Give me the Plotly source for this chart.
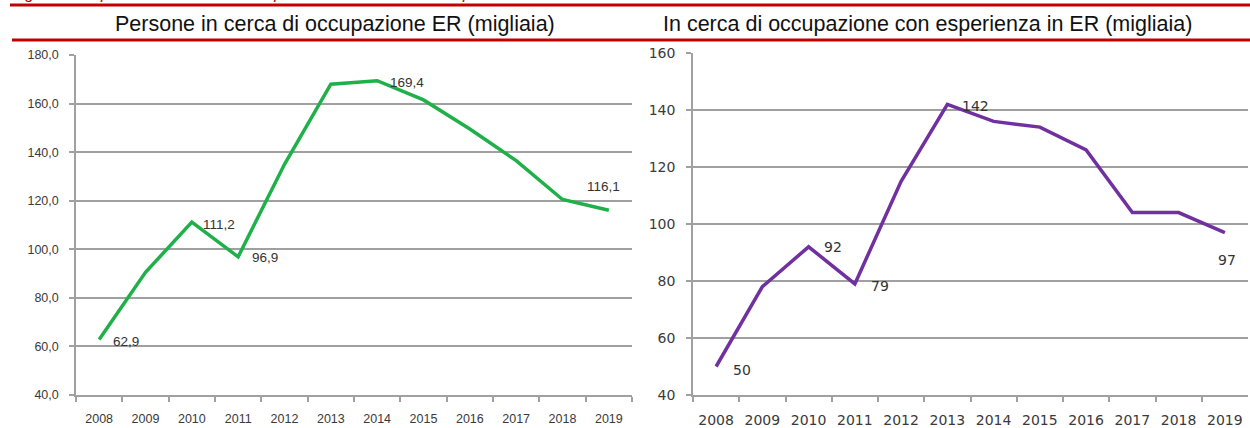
import plotly.graph_objects as go

# ---- data ----
years = [str(y) for y in range(2008, 2020)]
persone = [62.9, 90.5, 111.2, 96.9, 135.0, 168.0, 169.4, 161.5, 149.5, 136.5, 120.5, 116.1]
esperienza = [50, 78, 92, 79, 115, 142, 136, 134, 126, 104, 104, 97]
left_label_idx = [0, 2, 3, 6, 11]
right_label_idx = [0, 2, 3, 5, 11]
left_ticks = [40, 60, 80, 100, 120, 140, 160, 180]
right_ticks = [40, 60, 80, 100, 120, 140, 160]

caption = "Fig. 2.3.2.1: persone in cerca di occupazione* in ER. Media dei primi nove mesi dell'anno"
title_left = "Persone in cerca di occupazione ER (migliaia)"
title_right = "In cerca di occupazione con esperienza in ER (migliaia)"

W, H = 1250, 428
def px(x):
    return x / W
def py(y):
    return 1 - y / H

GRID = "#a0a0a0"
RED = "#c00000"
GREEN = "#1fb04a"
PURPLE = "#7030a0"
TXT = "#3a3a3a"

fig = go.Figure()
fig.add_trace(go.Scatter(x=years, y=persone, mode="lines", line=dict(color=GREEN, width=3.5),
                         xaxis="x", yaxis="y", showlegend=False, hoverinfo="x+y"))
fig.add_trace(go.Scatter(x=years, y=esperienza, mode="lines", line=dict(color=PURPLE, width=3.5),
                         xaxis="x2", yaxis="y2", showlegend=False, hoverinfo="x+y"))

annotations = []
left_style = {0: (12, -2, "left"), 2: (9, -2, "left"), 3: (12, -1, "left"),
              6: (11, -2, "left"), 11: (-5, 24, "center")}
for i in left_label_idx:
    xs, ys, xa = left_style[i]
    annotations.append(dict(x=i, y=persone[i], xref="x", yref="y",
                            text=f"{persone[i]:.1f}".replace(".", ","), showarrow=False,
                            xanchor=xa, yanchor="middle", xshift=xs, yshift=ys,
                            font=dict(family="Liberation Sans, Arial", size=13.5, color="#333333")))
right_style = {0: (15, -3, "left"), 2: (13, 0, "left"), 3: (14, -2, "left"),
               5: (13, -2, "left"), 11: (2, -27, "center")}
for i in right_label_idx:
    xs, ys, xa = right_style[i]
    annotations.append(dict(x=i, y=esperienza[i], xref="x2", yref="y2",
                            text=f"{esperienza[i]}", showarrow=False,
                            xanchor=xa, yanchor="middle", xshift=xs, yshift=ys,
                            font=dict(family="DejaVu Sans, Verdana", size=14, color="#333333")))

annotations.append(dict(x=px(335), y=py(24), xref="paper", yref="paper", text=title_left,
                        showarrow=False, xanchor="center", yanchor="middle",
                        font=dict(family="Liberation Sans, Arial", size=21.5, color="#111111")))
annotations.append(dict(x=px(928), y=py(24), xref="paper", yref="paper", text=title_right,
                        showarrow=False, xanchor="center", yanchor="middle",
                        font=dict(family="Liberation Sans, Arial", size=21.5, color="#111111")))
annotations.append(dict(x=px(10), y=py(4), xref="paper", yref="paper", text="<i>" + caption + "</i>",
                        showarrow=False, xanchor="left", yanchor="bottom",
                        font=dict(family="Liberation Sans, Arial", size=16, color=RED)))

shapes = [
    dict(type="line", xref="paper", yref="paper", x0=px(10), x1=1, y0=py(5), y1=py(5),
         line=dict(color=RED, width=3)),
    dict(type="line", xref="paper", yref="paper", x0=px(12), x1=1, y0=py(40), y1=py(40),
         line=dict(color=RED, width=3)),
]

xcommon = dict(type="category", range=[-0.5, 11.5], tickson="boundaries", ticks="outside",
               ticklen=5, tickcolor=GRID, tickwidth=1.5, showgrid=False, showline=True,
               linecolor=GRID, linewidth=1.5, ticklabelstandoff=11, fixedrange=True,
               automargin=False)
ycommon = dict(ticks="outside", ticklen=5, tickcolor=GRID, tickwidth=1.5, showgrid=True,
               gridcolor=GRID, gridwidth=1.6, showline=True, linecolor=GRID, linewidth=1.5,
               zeroline=False, ticklabelstandoff=8, fixedrange=True, automargin=False)

fig.update_layout(
    width=W, height=H, margin=dict(l=0, r=0, t=0, b=0, pad=0, autoexpand=False), autosize=False,
    paper_bgcolor="white", plot_bgcolor="white", separators=",.",
    showlegend=False,
    xaxis=dict(domain=[px(76), px(632)], anchor="y",
               tickfont=dict(family="Liberation Sans, Arial", size=12.5, color=TXT), **xcommon),
    yaxis=dict(domain=[py(395), py(55)], anchor="x", range=[40, 180], tickvals=left_ticks,
               tickformat=".1f",
               tickfont=dict(family="Liberation Sans, Arial", size=12.5, color=TXT), **ycommon),
    xaxis2=dict(domain=[px(693), px(1248)], anchor="y2",
                tickfont=dict(family="DejaVu Sans, Verdana", size=14, color=TXT), **xcommon),
    yaxis2=dict(domain=[py(395), py(53)], anchor="x2", range=[40, 160], tickvals=right_ticks,
                tickformat="d",
                tickfont=dict(family="DejaVu Sans, Verdana", size=14, color=TXT), **ycommon),
    annotations=annotations, shapes=shapes,
)

post = ("document.documentElement.style.margin='0';document.body.style.margin='0';"
        "document.body.style.padding='0';var d=document.getElementById('{plot_id}');"
        "d.style.position='fixed';d.style.top='0px';d.style.left='0px';")
fig.write_html("out.html", config={"displayModeBar": False}, post_script=post)
